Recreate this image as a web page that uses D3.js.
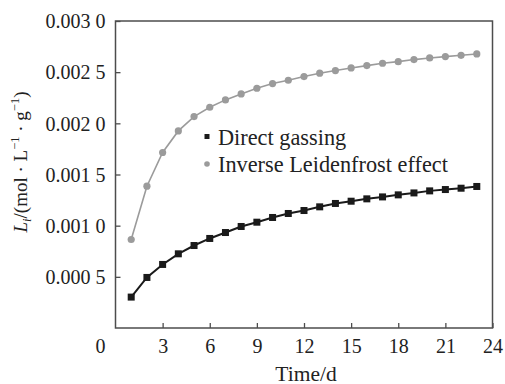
<!DOCTYPE html>
<html>
<head>
<meta charset="utf-8">
<script src="https://cdn.jsdelivr.net/npm/d3@7"></script>
<style>
  html, body { margin: 0; padding: 0; background: #fff; }
</style>
</head>
<body>
<svg id="chart" width="505" height="384"></svg>
<script>
// Sampling days
const days = [1,2,3,4,5,6,7,8,9,10,11,12,13,14,15,16,17,18,19,20,21,22,23];

// L_i over time for each method (mol·L^-1·g^-1)
const directGassing = [
  0.000302, 0.000494, 0.000621, 0.000725, 0.000806, 0.000875, 0.000933, 0.000992,
  0.001034, 0.001080, 0.001119, 0.001148, 0.001184, 0.001217, 0.001239, 0.001262,
  0.001281, 0.001301, 0.001320, 0.001340, 0.001353, 0.001366, 0.001383
];
const inverseLeidenfrost = [
  0.000865, 0.001386, 0.001715, 0.001926, 0.002066, 0.002157, 0.002229, 0.002287,
  0.002343, 0.002389, 0.002421, 0.002457, 0.002490, 0.002516, 0.002541, 0.002564,
  0.002587, 0.002603, 0.002623, 0.002639, 0.002652, 0.002665, 0.002678
];

const seriesNames = ["Direct gassing", "Inverse Leidenfrost effect"];

// Axis ticks and their printed labels
const xTicks = [3, 6, 9, 12, 15, 18, 21, 24];
const yTicks = [0.0005, 0.0010, 0.0015, 0.0020, 0.0025, 0.0030];
const yTickLabels = ["0.000 5", "0.001 0", "0.001 5", "0.002 0", "0.002 5", "0.003 0"];
const originLabel = "0";

const FONT = "Liberation Serif";
const svg = d3.select("#chart");
const m = { left: 115.5, right: 492.5, top: 21, bottom: 328 };

const x = d3.scaleLinear().domain([0, 24]).range([m.left, m.right]);
const y = d3.scaleLinear().domain([0, 0.003]).range([m.bottom, m.top]);

const axisColor = "#4d4d4d";
const grey = "#9b9b9b";
const dark = "#1a1a1a";
const textColor = "#222";

// Frame
svg.append("rect")
  .attr("x", m.left).attr("y", m.top)
  .attr("width", m.right - m.left).attr("height", m.bottom - m.top)
  .attr("fill", "none").attr("stroke", axisColor).attr("stroke-width", 1.5);

// Bottom axis: inward ticks
const xAxis = d3.axisBottom(x).tickValues(xTicks).tickSizeInner(-5).tickSizeOuter(0);
const gx = svg.append("g").attr("transform", `translate(0,${m.bottom})`).call(xAxis)
  .attr("font-family", FONT).attr("font-size", 20);
gx.select(".domain").remove();
gx.selectAll(".tick line").attr("stroke", axisColor).attr("stroke-width", 1.3);
gx.selectAll(".tick text").attr("font-family", FONT).attr("font-size", 20).attr("fill", textColor)
  .attr("dy", null).attr("y", 25);

// Left axis: inward ticks
const yAxis = d3.axisLeft(y).tickValues(yTicks).tickSizeInner(-5).tickSizeOuter(0)
  .tickFormat((d, i) => yTickLabels[i]);
const gy = svg.append("g").attr("transform", `translate(${m.left},0)`).call(yAxis)
  .attr("font-family", FONT).attr("font-size", 20);
gy.select(".domain").remove();
gy.selectAll(".tick line").attr("stroke", axisColor).attr("stroke-width", 1.3);
gy.selectAll(".tick text").attr("font-family", FONT).attr("font-size", 20).attr("fill", textColor)
  .attr("x", -10).attr("dy", "0.34em");

// Shared origin label
svg.append("text")
  .attr("x", x(0) - 15).attr("y", m.bottom + 25)
  .attr("text-anchor", "middle").attr("font-family", FONT).attr("font-size", 20).attr("fill", textColor)
  .text(originLabel);

// Axis titles
svg.append("text")
  .attr("x", 306).attr("y", 380.5)
  .attr("text-anchor", "middle").attr("font-family", FONT).attr("font-size", 21.5).attr("fill", textColor)
  .text("Time/d");

const yt = svg.append("text")
  .attr("transform", `translate(27,162) rotate(-90)`)
  .attr("text-anchor", "middle").attr("font-family", FONT).attr("font-size", 19).attr("fill", textColor);
yt.append("tspan").attr("font-style", "italic").text("L");
yt.append("tspan").attr("font-style", "italic").attr("font-size", 12.5).attr("dy", 4).text("i");
yt.append("tspan").attr("dy", -4).text("/(mol · L");
yt.append("tspan").attr("font-size", 12.5).attr("dy", -8).text("−1");
yt.append("tspan").attr("dy", 8).text(" · g");
yt.append("tspan").attr("font-size", 12.5).attr("dy", -8).text("−1");
yt.append("tspan").attr("dy", 8).text(")");

const line = d3.line().x((d, i) => x(days[i])).y(d => y(d));

// Inverse Leidenfrost series (grey circles)
svg.append("path").datum(inverseLeidenfrost)
  .attr("d", line).attr("fill", "none").attr("stroke", grey).attr("stroke-width", 1.6);
svg.append("g").selectAll("circle").data(inverseLeidenfrost).join("circle")
  .attr("cx", (d, i) => x(days[i])).attr("cy", d => y(d)).attr("r", 3.6).attr("fill", grey);

// Direct gassing series (black squares)
svg.append("path").datum(directGassing)
  .attr("d", line).attr("fill", "none").attr("stroke", dark).attr("stroke-width", 2);
svg.append("g").selectAll("rect").data(directGassing).join("rect")
  .attr("x", (d, i) => x(days[i]) - 3.5).attr("y", d => y(d) - 3.5)
  .attr("width", 7).attr("height", 7).attr("fill", dark);

// Legend
const lg = svg.append("g").attr("font-family", FONT);
lg.append("rect").attr("x", 204.5).attr("y", 134).attr("width", 5).attr("height", 5).attr("fill", dark);
lg.append("text").attr("x", 218).attr("y", 145).attr("font-family", FONT).attr("font-size", 22.3).attr("fill", textColor).text(seriesNames[0]);
lg.append("circle").attr("cx", 207).attr("cy", 164).attr("r", 2.8).attr("fill", grey);
lg.append("text").attr("x", 218).attr("y", 172).attr("font-family", FONT).attr("font-size", 22.3).attr("fill", textColor).text(seriesNames[1]);
</script>
</body>
</html>
